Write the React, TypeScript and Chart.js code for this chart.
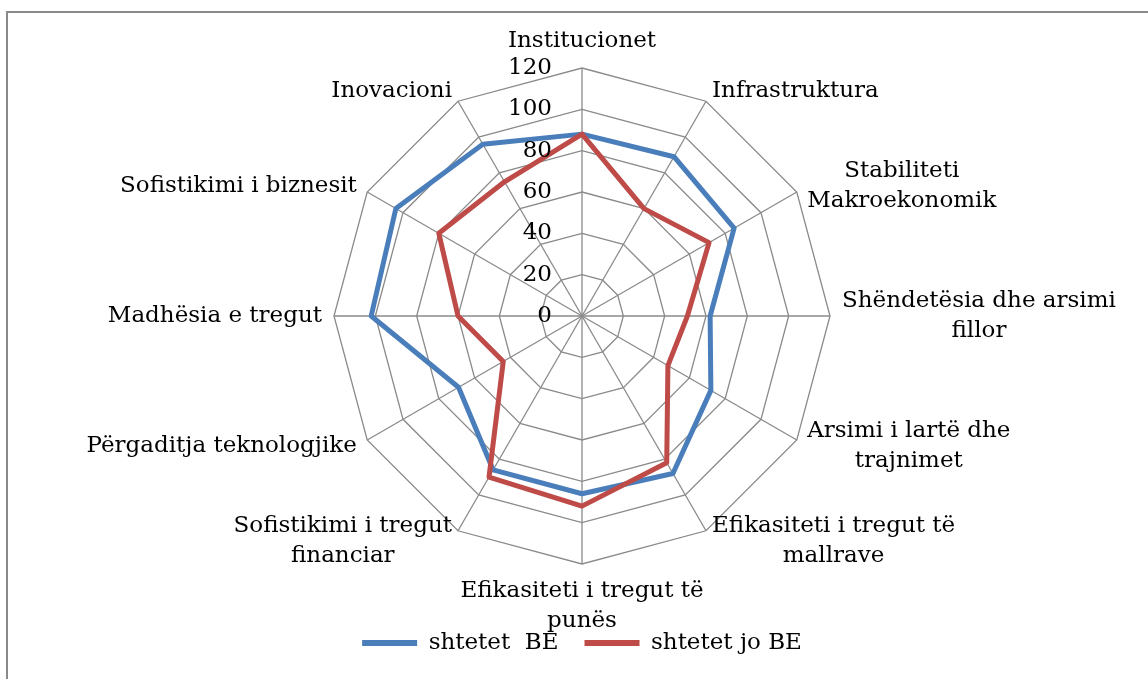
import React, { useEffect, useRef } from "react";
import { Chart, registerables } from "chart.js";

Chart.register(...registerables);

const categories: (string | string[])[] = [
  "Institucionet",
  "Infrastruktura",
  ["Stabiliteti", "Makroekonomik"],
  ["Shëndetësia dhe arsimi", "fillor"],
  ["Arsimi i lartë dhe", "trajnimet"],
  ["Efikasiteti i tregut të", "mallrave"],
  ["Efikasiteti i tregut të", "punës"],
  ["Sofistikimi i tregut", "financiar"],
  "Përgaditja teknologjike",
  "Madhësia e tregut",
  "Sofistikimi i biznesit",
  "Inovacioni",
];

const seriesNames = ["shtetet  BE", "shtetet jo BE"];
const euValues = [88, 89, 85, 62, 72, 88, 86, 86, 69, 102, 104, 96];
const nonEuValues = [88, 60, 71, 51, 48, 82, 92, 90, 44, 60, 80, 75];
const tickValues = [0, 20, 40, 60, 80, 100, 120];

const FONT = '"DejaVu Serif", serif';
const FONT_SIZE = 23;
const LINE_H = 30;
const BLUE = "#4A7EBB";
const RED = "#BE4B48";
const GRID = "#8a8a8a";

const textPlugin = {
  id: "customText",
  afterDatasetsDraw(chart: any) {
    const scale = chart.scales.r;
    const ctx = chart.ctx as CanvasRenderingContext2D;
    ctx.save();
    ctx.font = `${FONT_SIZE}px ${FONT}`;
    ctx.fillStyle = "#000";
    ctx.textBaseline = "middle";
    // tick labels
    ctx.textAlign = "right";
    scale.ticks.forEach((t: any) => {
      if (!tickValues.includes(t.value)) return;
      const d = scale.getDistanceFromCenterForValue(t.value);
      ctx.fillText(String(t.value), scale.xCenter - 30, scale.yCenter - d);
    });
    // point labels
    const PAD = 12;
    (chart.data.labels as any[]).forEach((lab, i) => {
      const lines: string[] = Array.isArray(lab) ? lab : [lab];
      const angle = scale.getIndexAngle(i);
      const s = Math.sin(angle);
      const c = Math.cos(angle);
      const p = scale.getPointPosition(i, scale.drawingArea + PAD);
      const h = lines.length * LINE_H;
      const widths = lines.map((l) => ctx.measureText(l).width);
      const bw = Math.max(...widths);
      let cx: number;
      let top: number;
      if (Math.abs(s) < 0.01) {
        cx = p.x;
        top = c > 0 ? p.y - h : p.y;
      } else {
        cx = s > 0 ? p.x + bw / 2 : p.x - bw / 2;
        top = p.y - h / 2;
      }
      ctx.textAlign = "center";
      lines.forEach((l, k) => {
        ctx.fillText(l, cx, top + LINE_H * (k + 0.5));
      });
    });
    ctx.restore();
  },
};

export default function App() {
  const ref = useRef<HTMLCanvasElement>(null);
  useEffect(() => {
    if (!ref.current) return;
    const chart = new Chart(ref.current, {
      type: "radar",
      data: {
        labels: categories,
        datasets: [
          {
            label: seriesNames[0],
            data: euValues,
            borderColor: BLUE,
            backgroundColor: BLUE,
            fill: false,
            borderWidth: 5,
            pointRadius: 0,
            pointHoverRadius: 0,
            borderJoinStyle: "round",
            order: 1,
          },
          {
            label: seriesNames[1],
            data: nonEuValues,
            borderColor: RED,
            backgroundColor: RED,
            fill: false,
            borderWidth: 5,
            pointRadius: 0,
            pointHoverRadius: 0,
            borderJoinStyle: "round",
            order: 0,
          },
        ],
      },
      options: {
        responsive: false,
        animation: false,
        devicePixelRatio: 1,
        layout: { padding: { left: 334, right: 318, top: 26.5, bottom: 14.5 } },
        scales: {
          r: {
            min: 0,
            max: 120,
            ticks: { stepSize: 20, display: false, showLabelBackdrop: false },
            grid: { color: GRID, lineWidth: 1.3 },
            angleLines: { color: GRID, lineWidth: 1.3 },
            pointLabels: { display: false },
          },
        },
        plugins: {
          tooltip: { enabled: false },
          legend: {
            position: "bottom",
            labels: {
              font: { family: FONT, size: FONT_SIZE },
              color: "#000",
              boxWidth: 55,
              boxHeight: 6,
              padding: 26,
              sort: (a: any, b: any) => a.datasetIndex - b.datasetIndex,
              generateLabels: (ch: any) =>
                Chart.defaults.plugins.legend.labels
                  .generateLabels(ch)
                  .map((it: any) => ({
                    ...it,
                    fillStyle: ch.data.datasets[it.datasetIndex].borderColor,
                    strokeStyle: ch.data.datasets[it.datasetIndex].borderColor,
                    lineWidth: 0,
                  })),
            },
          },
        },
      },
      plugins: [textPlugin],
    } as any);
    return () => chart.destroy();
  }, []);

  return (
    <div
      style={{
        position: "absolute",
        left: 0,
        top: 0,
        width: 1148,
        height: 679,
        overflow: "hidden",
        background: "#fff",
      }}
    >
      <div
        style={{
          position: "absolute",
          left: 6,
          top: 11,
          width: 2000,
          height: 2000,
          borderLeft: "2px solid #898989",
          borderTop: "2px solid #898989",
        }}
      />
      <canvas
        ref={ref}
        width={1148}
        height={679}
        style={{ position: "absolute", left: 0, top: 0, width: 1148, height: 679 }}
      />
    </div>
  );
}
